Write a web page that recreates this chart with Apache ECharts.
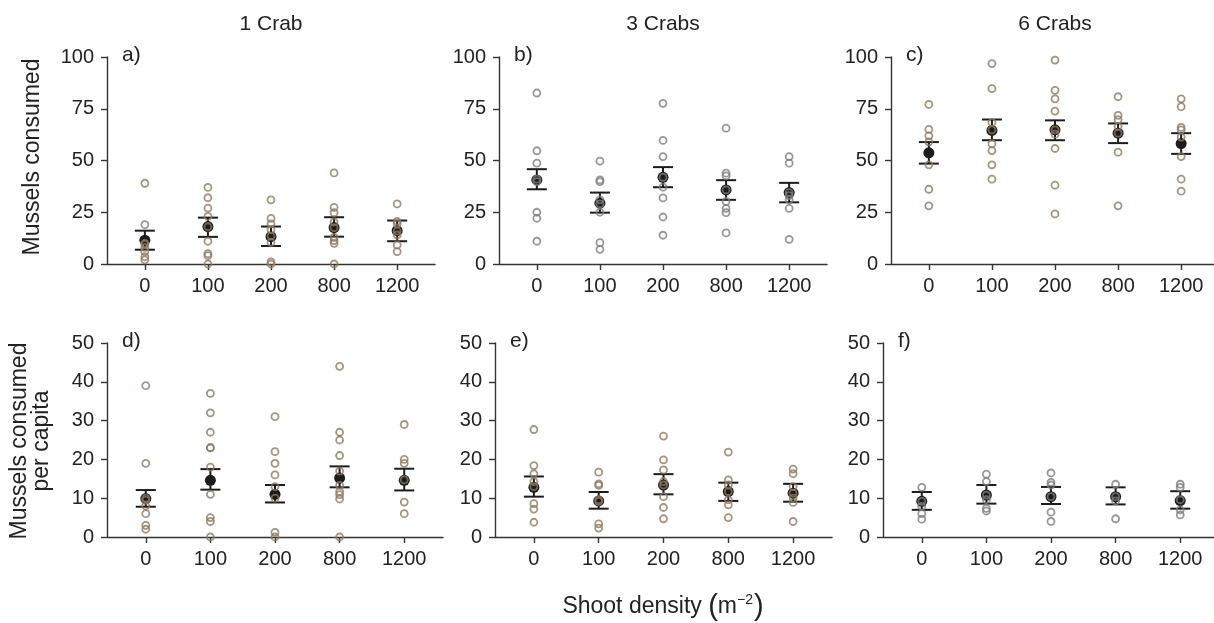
<!DOCTYPE html>
<html>
<head>
<meta charset="utf-8">
<script src="https://cdn.jsdelivr.net/npm/echarts@6/dist/echarts.min.js"></script>
<style>
  html, body { margin: 0; padding: 0; background: #fff; }
  #chart { width: 1214px; height: 623px; }
</style>
</head>
<body>
<div id="chart"></div>
<script>
// shoot density treatments (x categories)
const categories = ['0', '100', '200', '800', '1200'];
const titles = ['1 Crab', '3 Crabs', '6 Crabs'];
const letters = ['a)', 'b)', 'c)', 'd)', 'e)', 'f)'];
const ticksTotal = [0, 25, 50, 75, 100];
const ticksCapita = [0, 10, 20, 30, 40, 50];

// raw replicates, one list per shoot density
const pointsA = [[39, 19, 10, 9.5, 8, 6, 3.5, 2], [37, 32, 27, 23, 18, 11, 5, 4, 0], [31, 22, 19.4, 16.5, 13.5, 10.5, 1, 0], [44, 27.4, 24.8, 20.3, 17.6, 12.9, 11.3, 10, 0], [29, 20.6, 19.4, 16, 14, 9.2, 6]];
const pointsB = [[82.6, 54.7, 48.7, 41, 39.8, 25, 22.1, 11], [49.7, 40.6, 39.8, 31, 29, 25, 10.3, 7.1], [77.6, 59.7, 51.9, 41.9, 37.1, 31.9, 22.7, 13.9], [65.6, 43.9, 42.6, 35.8, 30.2, 26.9, 24.8, 15], [51.9, 48.7, 34.5, 33, 31, 26.9, 11.9]];
const pointsC = [[77.1, 65, 61.9, 59, 47.9, 36.1, 28.1], [96.8, 84.7, 68.4, 64.8, 58.1, 54.8, 47.9, 41], [98.5, 83.9, 79.8, 73.9, 64.8, 62.7, 55.8, 38.1, 24.2], [80.8, 71.8, 69.7, 66.5, 63.2, 54, 28.1], [79.8, 76, 66, 64.8, 61.3, 51.9, 41, 35.2]];
const pointsD = [[39, 19, 10, 9.5, 8, 6, 3, 2], [37, 32, 27, 23, 23, 18, 11, 5, 4, 0], [31, 22, 19, 16, 13, 10, 1.2, 0], [44, 27, 25, 21, 17, 13.3, 11.7, 10.9, 9.8, 0], [29, 20, 19, 14.7, 9, 6]];
const pointsE = [[27.7, 18.4, 16.3, 14.3, 13, 8.6, 7.2, 3.8], [16.7, 13.7, 13.3, 9.6, 9.2, 3.4, 2.3], [26, 19.9, 17.3, 14.3, 13.4, 10.4, 7.6, 4.7], [21.9, 14.7, 13.4, 11.7, 9.6, 8.3, 5], [17.5, 16.3, 13, 11.3, 10, 8.9, 4]];
const pointsF = [[12.8, 9.2, 7.9, 6, 4.6], [16.2, 14.3, 10.8, 9.6, 7.4, 6.7], [16.5, 14.1, 13.4, 10.4, 6.4, 4], [13.6, 10.4, 9.3, 4.7], [13.6, 12.8, 9.6, 7, 5.7]];

// means and +/- SE limits
const meanA = [11.5, 18.1, 13.2, 17.6, 16.1];
const lowA = [6.9, 13.1, 8.7, 13.2, 11];
const highA = [16.1, 22.4, 18.1, 22.6, 21];
const meanB = [40.6, 29.4, 41.9, 35.8, 34.5];
const lowB = [36.1, 24.8, 37.1, 31, 29.8];
const highB = [45.8, 34.5, 46.8, 40.5, 39.2];
const meanC = [53.7, 64.5, 64.8, 63.2, 58.2];
const lowC = [48.5, 59.8, 59.8, 58.4, 53.2];
const highC = [58.9, 69.8, 69.4, 67.9, 63.2];
const meanD = [9.9, 14.6, 11.0, 15.2, 14.6];
const lowD = [7.8, 12.2, 8.9, 12.8, 12.0];
const highD = [12.1, 17.5, 13.4, 18.2, 17.6];
const meanE = [12.8, 9.3, 13.4, 11.7, 11.3];
const lowE = [10.4, 7.3, 11.0, 9.3, 9.1];
const highE = [15.6, 11.6, 16.2, 14.0, 13.7];
const meanF = [9.2, 10.8, 10.4, 10.4, 9.4];
const lowF = [7.0, 8.6, 8.5, 8.4, 7.3];
const highF = [11.6, 13.4, 12.9, 12.8, 11.8];

const brown = '#8d7862';
const grey = '#7d7d7d';
const ink = '#1c1c1c';
const font = '"Liberation Sans", Arial, sans-serif';

const panels = [
  { box: [107, 57, 328, 207], ticks: ticksTotal, pts: pointsA, mean: meanA, lo: lowA, hi: highA, color: brown },
  { box: [499, 57, 328, 207], ticks: ticksTotal, pts: pointsB, mean: meanB, lo: lowB, hi: highB, color: grey },
  { box: [891, 57, 328, 207], ticks: ticksTotal, pts: pointsC, mean: meanC, lo: lowC, hi: highC, color: brown },
  { box: [107, 343, 336, 194], ticks: ticksCapita, pts: pointsD, mean: meanD, lo: lowD, hi: highD, color: brown },
  { box: [495, 343, 337, 194], ticks: ticksCapita, pts: pointsE, mean: meanE, lo: lowE, hi: highE, color: brown },
  { box: [883, 343, 336, 194], ticks: ticksCapita, pts: pointsF, mean: meanF, lo: lowF, hi: highF, color: grey }
];

const grid = [], xAxis = [], yAxis = [], series = [], graphic = [];
const axisLineStyle = { color: '#333', width: 1.4 };
const catIdx = categories.map((c, i) => i);

panels.forEach((p, k) => {
  grid.push({ left: p.box[0], top: p.box[1], width: p.box[2], height: p.box[3], outerBoundsMode: 'none', containLabel: false });
  xAxis.push({
    gridIndex: k, type: 'value', min: -0.6, max: 4.6,
    axisLine: { show: true, onZero: false, lineStyle: axisLineStyle },
    axisTick: { show: true, customValues: catIdx, length: 6, lineStyle: axisLineStyle },
    axisLabel: { customValues: catIdx, formatter: v => categories[Math.round(v)], fontSize: 20, fontFamily: font, color: '#222', margin: 12 },
    splitLine: { show: false }
  });
  const top = p.ticks[p.ticks.length - 1];
  yAxis.push({
    gridIndex: k, type: 'value', min: 0, max: top, interval: p.ticks[1] - p.ticks[0],
    axisLine: { show: true, onZero: false, lineStyle: axisLineStyle },
    axisTick: { show: true, length: 6, lineStyle: axisLineStyle },
    axisLabel: { fontSize: 20, fontFamily: font, color: '#222', margin: 13 },
    splitLine: { show: false }
  });
  const errData = p.mean.map((m, i) => [i, m, p.lo[i], p.hi[i]]);
  series.push({
    type: 'custom', xAxisIndex: k, yAxisIndex: k, data: errData,
    encode: { x: 0, y: 1 }, z: 2, silent: true,
    renderItem: function (params, api) {
      const x = api.value(0);
      const pm = api.coord([x, api.value(1)]);
      const pl = api.coord([x, api.value(2)]);
      const ph = api.coord([x, api.value(3)]);
      const w = 10;
      const st = { stroke: ink, lineWidth: 2 };
      return {
        type: 'group', children: [
          { type: 'line', shape: { x1: pl[0], y1: pl[1], x2: ph[0], y2: ph[1] }, style: st },
          { type: 'line', shape: { x1: ph[0] - w, y1: ph[1], x2: ph[0] + w, y2: ph[1] }, style: st },
          { type: 'line', shape: { x1: pl[0] - w, y1: pl[1], x2: pl[0] + w, y2: pl[1] }, style: st },
          { type: 'circle', shape: { cx: pm[0], cy: pm[1], r: 5.5 }, style: { fill: ink } }
        ]
      };
    }
  });
  const raw = [];
  p.pts.forEach((list, i) => list.forEach(v => raw.push([i, v])));
  series.push({
    type: 'scatter', xAxisIndex: k, yAxisIndex: k, data: raw, z: 3, silent: true,
    symbol: 'circle', symbolSize: 7,
    itemStyle: { color: 'rgba(0,0,0,0)', borderColor: p.color, borderWidth: 1.8 }
  });
  graphic.push({
    type: 'text', x: p.box[0] + 15, y: p.box[1] - 2,
    style: { text: letters[k], fontSize: 21, fontFamily: font, fill: '#222', align: 'left', verticalAlign: 'middle' }
  });
  if (k < 3) {
    graphic.push({
      type: 'text', x: p.box[0] + p.box[2] / 2, y: 24,
      style: { text: titles[k], fontSize: 21, fontFamily: font, fill: '#222', align: 'center', verticalAlign: 'middle' }
    });
  }
});

graphic.push({
  type: 'text', x: 33, y: 157, rotation: Math.PI / 2,
  style: { text: 'Mussels consumed', fontSize: 23, fontFamily: font, fill: '#222', align: 'center', verticalAlign: 'middle' }
});
graphic.push({
  type: 'text', x: 31, y: 441, rotation: Math.PI / 2,
  style: { text: 'Mussels consumed\nper capita', fontSize: 23, lineHeight: 22, fontFamily: font, fill: '#222', align: 'center', verticalAlign: 'middle' }
});
graphic.push({
  type: 'text', x: 663, y: 607,
  style: {
    text: '{a|Shoot density }{p|(}{a|m}{s|\u22122}{p|)}',
    align: 'center', verticalAlign: 'middle',
    rich: {
      a: { fontSize: 23, fontFamily: font, fill: '#222' },
      p: { fontSize: 29, fontFamily: font, fill: '#222' },
      s: { fontSize: 14, fontFamily: font, fill: '#222', padding: [0, 1, 14, 0] }
    }
  }
});

const chart = echarts.init(document.getElementById('chart'));
chart.setOption({
  animation: false,
  backgroundColor: '#fff',
  grid: grid, xAxis: xAxis, yAxis: yAxis, series: series, graphic: graphic
});
</script>
</body>
</html>
